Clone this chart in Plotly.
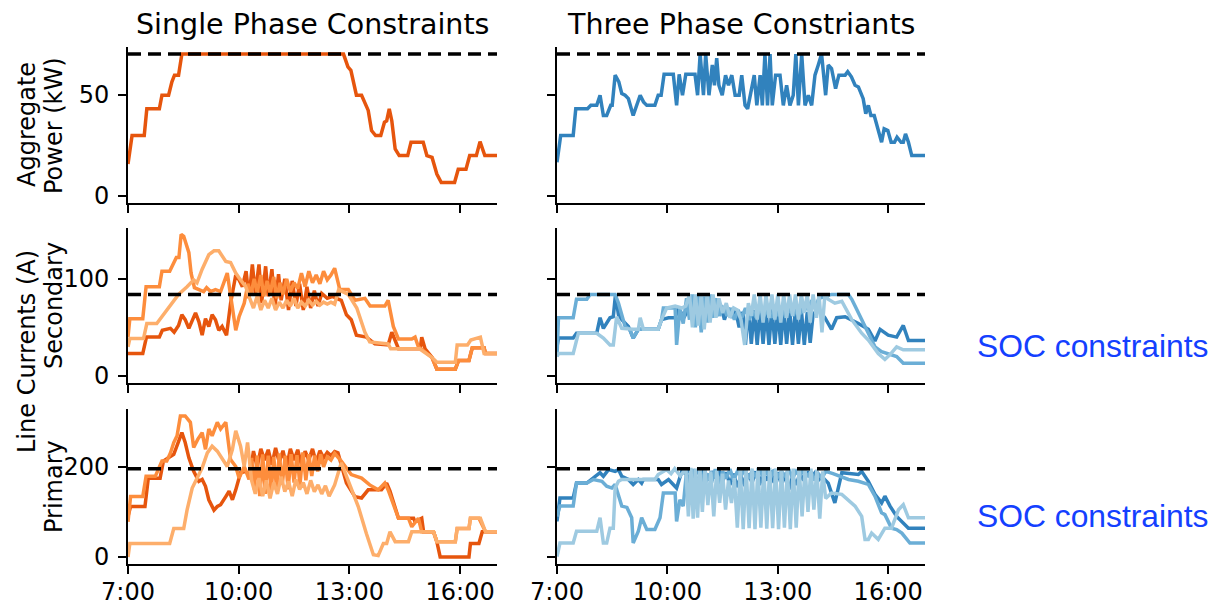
import plotly.graph_objects as go

# The page body has an 8px default margin, so the figure is drawn 8px smaller
# and all page-pixel positions are shifted by that offset.
PAGE_W, PAGE_H = 1218, 605
OFF = 8
W, H = PAGE_W - OFF, PAGE_H - OFF

# ---------------- data (time in decimal hours, value) ----------------
tick_hours = [7, 10, 13, 16]
tick_text = ["7:00", "10:00", "13:00", "16:00"]

col_titles = ["Single Phase Constraints", "Three Phase Constriants"]
limits = [70, 84, 196]          # dashed constraint levels per row

# Row 1: aggregate power (kW)
agg_1ph = [(7.0,15.7),(7.11,29.8),(7.44,29.8),(7.51,43),(7.85,43),(7.92,49.7),(8.1,49.7),(8.19,56.3),
           (8.26,59.6),(8.37,59.6),(8.46,70),(12.84,70),(12.96,63.7),(13.04,62),(13.19,49.7),(13.33,49.7),
           (13.51,42.2),(13.6,32.3),(13.71,29.8),(13.85,29.8),(13.95,36.4),(14.01,37),(14.08,43),(14.15,37),
           (14.24,23.2),(14.35,19.9),(14.58,19.9),(14.67,26.5),(15.0,26.5),(15.1,19.9),(15.24,19),(15.37,10.8),
           (15.49,6.6),(15.85,6.6),(15.95,13.2),(16.16,13.2),(16.26,19.9),(16.44,19.9),(16.54,26.8),(16.67,19.9),
           (17.0,19.9)]
agg_3ph = [(7.0,16.6),(7.1,29.8),(7.44,29.8),(7.51,43),(7.83,43),(7.92,44.7),(8.08,44.7),(8.17,49.7),(8.26,39.7),
           (8.35,39.7),(8.46,44.7),(8.5,44.7),(8.58,59.6),(8.68,56.3),(8.76,50.5),(8.85,49.7),(8.94,48),(9.07,39.7),
           (9.26,49.7),(9.35,46.4),(9.44,44.7),(9.66,44.7),(9.75,49.7),(9.83,49.7),(9.91,60),(10.16,60),(10.25,44.7),
           (10.32,60),(10.41,49.7),(10.5,60),(10.75,60),(10.82,49.7),(10.89,70),(10.98,49.7),(11.04,70),(11.13,49.7),
           (11.22,64.6),(11.28,54.6),(11.34,68),(11.4,54.6),(11.49,49.7),(11.58,59.6),(11.66,54.6),(11.75,59.6),
           (11.84,49.7),(11.95,49.7),(12.02,59.6),(12.11,44.7),(12.18,43),(12.29,54.6),(12.36,59.6),(12.43,44.7),
           (12.52,59.6),(12.58,44.7),(12.65,70),(12.72,44.7),(12.79,70),(12.85,44.7),(12.94,59.6),(13.06,59.6),
           (13.15,44.7),(13.24,54.6),(13.33,44.7),(13.42,49.7),(13.49,70),(13.56,44.7),(13.65,70),(13.74,44.7),
           (13.83,49.7),(13.92,44.7),(14.01,59.6),(14.1,64.6),(14.19,70),(14.3,49.7),(14.37,64.6),(14.46,62.9),
           (14.57,53),(14.66,59.6),(14.83,59.6),(14.9,61.3),(15.0,58.8),(15.1,54.6),(15.19,53.8),(15.32,48),
           (15.39,40.6),(15.46,44.7),(15.53,39.7),(15.62,39.7),(15.73,33.1),(15.82,26.5),(15.89,33.1),(15.99,32.3),
           (16.08,26.5),(16.17,26.5),(16.24,29),(16.35,26.5),(16.41,26.5),(16.47,30.6),(16.55,26.5),(16.64,19.9),
           (17.0,19.9)]

# Row 2: secondary line currents (A), three lines per column
sec_1ph = [
    [(7.0,23),(7.4,23),(7.5,40),(7.85,40),(7.93,47),(8.15,49),(8.25,45),(8.37,52),(8.46,63),(8.55,58),(8.65,49),
     (8.74,56),(8.83,65),(8.92,56),(9.01,42),(9.1,59),(9.19,51),(9.28,63),(9.37,58),(9.46,47),(9.55,51),(9.67,42),
     (9.78,75),(9.92,104),(10.01,99),(10.1,92),(10.2,108),(10.28,80),(10.37,115),(10.45,85),(10.55,115),(10.62,75),
     (10.73,113),(10.8,82),(10.9,110),(10.98,70),(11.08,105),(11.15,78),(11.25,100),(11.35,68),(11.45,98),(11.55,72),
     (11.65,95),(11.75,68),(11.85,92),(11.95,70),(12.05,88),(12.15,72),(12.25,85),(12.4,80),(12.55,82),(12.65,80),
     (12.78,78),(12.92,63),(13.05,58),(13.19,42),(13.46,40),(13.69,33),(14.05,32),(14.15,45),(14.33,28),(14.92,28),
     (14.96,40),(15.05,28),(15.24,19),(15.37,7),(15.87,7),(15.96,16),(16.24,16),(16.33,29),(16.65,29),(16.69,23),
     (17.0,23)],
    [(7.0,40),(7.05,59),(7.4,59),(7.49,92),(7.85,92),(7.92,108),(8.13,108),(8.24,117),(8.31,122),(8.38,122),
     (8.44,146),(8.51,144),(8.65,127),(8.71,106),(8.8,91),(9.05,87),(9.13,91),(9.24,87),(9.37,89),(9.51,87),
     (9.69,106),(9.92,47),(10.01,61),(10.15,75),(10.25,95),(10.33,84),(10.42,100),(10.5,86),(10.6,104),(10.68,82),
     (10.77,98),(10.85,85),(10.95,102),(11.03,80),(11.12,96),(11.2,84),(11.3,100),(11.4,87),(11.5,96),(11.6,90),
     (11.7,106),(11.8,92),(11.9,108),(12.0,96),(12.1,104),(12.2,95),(12.3,108),(12.4,99),(12.5,104),(12.6,111),
     (12.74,89),(12.97,89),(13.15,78),(13.42,80),(13.56,72),(13.96,72),(14.05,78),(14.19,51),(14.33,38),(14.69,38),
     (14.78,40),(14.87,30),(15.05,25),(15.24,19),(15.37,7),(15.87,7),(15.96,16),(16.24,16),(16.33,29),(16.65,29),
     (16.69,23),(17.0,23)],
    [(7.0,30),(7.05,38.5),(7.42,38.5),(7.51,54),(7.78,54),(8.05,68),(8.37,84),(8.6,92),(8.78,99),(8.87,96),
     (9.01,110),(9.19,125),(9.33,129),(9.46,129),(9.55,124),(9.65,118),(9.78,117),(9.92,106),(10.05,99),(10.19,92),
     (10.3,80),(10.4,70),(10.5,82),(10.6,68),(10.7,78),(10.8,70),(10.9,80),(11.0,68),(11.1,76),(11.2,70),(11.3,78),
     (11.4,72),(11.5,80),(11.6,70),(11.7,76),(11.8,72),(11.9,78),(12.0,73),(12.1,77),(12.2,73),(12.3,76),(12.4,74),
     (12.5,76),(12.6,74),(12.71,89),(12.97,84),(13.2,70),(13.42,45),(13.55,35),(14.05,33),(14.12,28),(14.9,28),
     (15.24,19),(15.37,14),(15.87,14),(15.92,32),(16.2,32),(16.29,37),(16.55,40),(16.65,23),(17.0,23)],
]
sec_3ph = [
    [(7.0,30),(7.04,39),(7.44,39),(7.53,44),(8.08,44),(8.17,60),(8.26,49),(8.44,60),(8.53,61),(8.59,84),(8.67,63),
     (8.76,58),(8.94,51),(9.07,39),(9.21,48),(9.75,48),(9.84,58),(10.03,60),(10.21,60),(10.3,70),(10.45,60),(10.6,72),
     (10.75,62),(10.9,73),(11.05,60),(11.2,72),(11.35,62),(11.45,73),(11.55,58),(11.65,70),(11.75,60),(11.85,68),
     (11.95,50),(12.05,66),(12.12,32),(12.2,70),(12.28,33),(12.36,68),(12.44,32),(12.52,70),(12.6,33),(12.68,68),
     (12.76,32),(12.84,70),(12.92,33),(13.0,68),(13.08,32),(13.16,70),(13.24,33),(13.32,68),(13.4,32),(13.48,70),
     (13.56,33),(13.64,68),(13.72,32),(13.8,66),(13.88,34),(13.96,64),(14.1,68),(14.28,60),(14.46,48),(14.6,60),
     (14.83,61),(15.0,58),(15.19,54),(15.46,48),(15.64,36),(15.78,48),(16.0,42),(16.23,40),(16.41,52),(16.55,36.5),
     (17.0,36.5)],
    [(7.0,20),(7.04,60),(7.44,60),(7.53,79),(7.81,79),(7.9,84),(8.58,84),(8.67,75),(8.85,51),(8.98,48),(9.07,39),
     (9.21,48),(9.3,48),(9.75,48),(9.84,58),(9.89,70),(10.21,70),(10.25,32),(10.34,70),(10.43,54),(10.52,80),
     (10.6,58),(10.68,84),(10.76,50),(10.84,84),(10.92,45),(11.0,82),(11.08,55),(11.16,84),(11.24,60),(11.32,80),
     (11.42,62),(11.52,72),(11.62,62),(11.72,70),(11.82,58),(11.92,68),(12.02,60),(12.12,70),(12.22,58),(12.32,66),
     (12.42,60),(12.52,70),(12.62,62),(12.72,68),(12.82,60),(12.92,70),(13.02,62),(13.12,72),(13.22,60),(13.32,70),
     (13.42,62),(13.52,72),(13.62,64),(13.72,75),(13.82,68),(13.92,78),(14.02,72),(14.12,80),(14.28,82),(14.46,84),
     (14.92,84),(15.01,79),(15.1,72),(15.28,58),(15.46,42),(15.64,30),(15.82,25),(16.0,23),(16.23,20),(16.41,13),
     (17.0,13)],
    [(7.0,20),(7.04,23),(7.44,23),(7.58,44),(8.08,44),(8.26,39),(8.44,32),(8.53,32),(8.62,61),(8.76,49),(9.07,48),
     (9.21,48),(9.26,60),(9.35,48),(9.75,48),(9.84,58),(9.98,70),(10.21,72),(10.39,70),(10.5,72),(10.6,84),(10.68,50),
     (10.76,84),(10.84,52),(10.92,84),(11.0,48),(11.08,84),(11.16,55),(11.24,84),(11.32,60),(11.4,80),(11.5,65),
     (11.6,75),(11.7,60),(11.8,70),(11.9,68),(12.0,58),(12.1,32),(12.2,75),(12.28,62),(12.36,84),(12.44,58),
     (12.52,84),(12.6,55),(12.68,84),(12.76,60),(12.84,84),(12.92,58),(13.0,84),(13.08,55),(13.16,84),(13.24,60),
     (13.32,84),(13.4,62),(13.48,84),(13.56,58),(13.64,84),(13.72,65),(13.8,84),(13.88,55),(13.96,84),(14.05,60),
     (14.12,84),(14.2,45),(14.28,84),(14.37,79),(14.55,75),(14.74,77),(15.01,58),(15.28,44),(15.46,37),(15.73,23),
     (15.91,17),(16.05,22),(16.23,30),(16.41,27),(17.0,27)],
]

# Row 3: primary line currents (A)
pri_1ph = [
    [(7.0,90),(7.07,112),(7.46,112),(7.55,175),(7.87,175),(7.96,213),(8.24,228),(8.46,276),(8.55,254),(8.65,220),
     (8.78,190),(8.92,168),(9.01,172),(9.1,157),(9.19,127),(9.33,104),(9.42,112),(9.51,116),(9.65,134),(9.74,146),
     (9.83,127),(9.92,149),(10.05,187),(10.19,190),(10.3,180),(10.4,235),(10.5,200),(10.6,240),(10.7,215),(10.8,238),
     (10.9,205),(11.0,242),(11.1,210),(11.2,236),(11.3,200),(11.4,240),(11.5,215),(11.6,238),(11.7,205),(11.8,235),
     (11.9,215),(12.0,240),(12.1,210),(12.2,236),(12.3,220),(12.4,232),(12.5,225),(12.6,234),(12.69,231),(12.92,164),
     (13.15,134),(13.33,131),(13.51,149),(13.87,149),(14.01,164),(14.1,146),(14.33,86),(14.74,86),(14.78,78),
     (14.96,86),(15.01,56),(15.28,56),(15.37,34),(15.46,0),(16.24,0),(16.28,30),(16.51,30),(16.6,56),(17.0,56)],
    [(7.0,78),(7.07,134),(7.4,134),(7.49,179),(7.74,179),(7.92,213),(8.05,213),(8.15,231),(8.24,254),(8.33,269),
     (8.42,313),(8.55,313),(8.69,299),(8.78,243),(8.89,261),(9.01,276),(9.1,239),(9.19,284),(9.28,269),(9.42,299),
     (9.51,284),(9.65,299),(9.78,216),(9.92,201),(10.01,175),(10.15,201),(10.28,172),(10.35,220),(10.42,150),
     (10.5,225),(10.57,135),(10.65,228),(10.72,140),(10.8,225),(10.88,145),(10.95,222),(11.03,150),(11.1,230),
     (11.18,160),(11.26,225),(11.34,150),(11.42,228),(11.5,165),(11.58,226),(11.66,160),(11.74,232),(11.82,170),
     (11.9,228),(11.98,180),(12.06,225),(12.14,190),(12.22,228),(12.3,200),(12.4,222),(12.5,215),(12.6,230),
     (12.78,213),(13.05,183),(13.33,175),(13.55,160),(13.78,149),(13.96,164),(14.05,149),(14.33,86),(14.6,86),
     (14.69,67),(14.87,86),(14.96,56),(15.28,56),(15.37,34),(15.87,34),(15.92,63),(16.24,63),(16.28,86),(16.51,86),
     (16.69,56),(17.0,56)],
    [(7.0,0),(7.05,30),(8.13,30),(8.24,63),(8.51,63),(8.6,104),(8.74,153),(8.87,175),(9.01,198),(9.15,231),
     (9.28,246),(9.42,235),(9.55,220),(9.69,201),(9.83,239),(9.92,280),(10.05,246),(10.15,201),(10.24,254),
     (10.35,170),(10.45,140),(10.55,175),(10.65,135),(10.75,170),(10.85,130),(10.95,165),(11.05,140),(11.15,178),
     (11.25,145),(11.35,168),(11.45,135),(11.55,172),(11.65,150),(11.75,165),(11.85,140),(11.95,170),(12.05,145),
     (12.15,160),(12.25,140),(12.35,158),(12.45,135),(12.55,150),(12.6,160),(12.78,209),(12.96,172),(13.24,112),
     (13.46,52),(13.65,5),(13.78,3),(13.92,30),(14.01,30),(14.1,56),(14.24,34),(14.6,34),(14.69,56),(15.28,56),
     (15.37,34),(15.87,34),(15.92,63),(16.24,63),(16.28,86),(16.55,86),(16.69,56),(17.0,56)],
]
pri_3ph = [
    [(7.0,79),(7.08,131),(7.44,131),(7.53,164),(7.81,164),(7.94,172),(8.17,187),(8.26,179),(8.4,194),(8.58,190),
     (8.67,194),(8.76,179),(8.94,172),(9.07,161),(9.21,172),(9.3,164),(9.35,172),(9.75,172),(9.84,161),(10.03,172),
     (10.25,153),(10.39,190),(10.5,185),(10.6,196),(10.7,175),(10.8,192),(10.9,180),(11.0,195),(11.1,170),(11.2,190),
     (11.3,175),(11.4,193),(11.5,168),(11.6,188),(11.7,160),(11.8,185),(11.9,155),(12.0,180),(12.1,158),(12.2,185),
     (12.3,165),(12.4,190),(12.5,160),(12.6,185),(12.7,170),(12.8,192),(12.9,165),(13.0,188),(13.1,160),(13.2,182),
     (13.3,150),(13.4,178),(13.5,160),(13.6,185),(13.7,170),(13.8,190),(13.9,175),(14.0,186),(14.1,170),(14.2,178),
     (14.37,164),(14.55,120),(14.74,187),(15.19,183),(15.28,190),(15.46,168),(15.64,139),(15.82,120),(15.91,135),
     (16.05,113),(16.23,90),(16.55,64),(17.0,64)],
    [(7.0,90),(7.08,113),(7.44,113),(7.53,164),(7.81,164),(7.99,172),(8.22,168),(8.35,157),(8.49,153),(8.58,161),
     (8.76,113),(8.9,110),(9.03,87),(9.07,31),(9.21,57),(9.3,87),(9.44,61),(9.66,61),(9.8,87),(9.89,142),(10.21,142),
     (10.25,79),(10.34,127),(10.43,113),(10.52,190),(10.6,150),(10.7,195),(10.8,160),(10.9,190),(11.0,150),
     (11.1,185),(11.2,165),(11.3,195),(11.4,160),(11.5,190),(11.6,175),(11.7,195),(11.8,170),(11.9,190),(12.0,180),
     (12.1,194),(12.2,175),(12.3,190),(12.4,180),(12.5,195),(12.6,178),(12.7,190),(12.8,175),(12.9,194),(13.0,178),
     (13.1,190),(13.2,180),(13.3,195),(13.4,175),(13.5,190),(13.6,180),(13.7,195),(13.8,178),(13.9,190),(14.0,170),
     (14.1,185),(14.2,175),(14.3,190),(14.5,185),(14.92,172),(15.19,168),(15.46,161),(15.64,135),(15.82,98),
     (15.91,94),(16.09,64),(16.23,61),(16.37,53),(16.59,31),(17.0,31)],
    [(7.0,1),(7.08,31),(7.44,31),(7.53,57),(8.08,57),(8.17,87),(8.26,31),(8.35,31),(8.44,64),(8.53,64),(8.58,153),
     (8.67,168),(8.76,172),(9.66,172),(9.75,183),(9.98,194),(10.1,185),(10.2,196),(10.35,180),(10.5,196),(10.57,90),
     (10.64,198),(10.7,85),(10.76,196),(10.82,87),(10.88,198),(10.95,100),(11.02,196),(11.1,115),(11.18,190),
     (11.26,90),(11.34,192),(11.42,120),(11.5,185),(11.58,105),(11.66,170),(11.74,120),(11.82,175),(11.9,65),
     (11.98,196),(12.06,62),(12.14,198),(12.22,64),(12.3,196),(12.38,62),(12.46,198),(12.54,65),(12.62,196),
     (12.7,63),(12.78,198),(12.86,64),(12.94,196),(13.02,62),(13.1,198),(13.18,65),(13.26,194),(13.34,62),
     (13.42,196),(13.5,65),(13.58,198),(13.66,90),(13.74,196),(13.82,100),(13.9,196),(13.98,105),(14.06,194),
     (14.14,85),(14.22,190),(14.3,130),(14.46,142),(14.74,139),(14.92,127),(15.1,113),(15.28,90),(15.37,39),
     (15.46,39),(15.55,53),(15.73,39),(15.91,64),(16.09,64),(16.28,105),(16.41,116),(16.55,87),(17.0,87)],
]

# ---------------- styling / layout ----------------
ORANGES = ["#e6550d", "#fd8d3c", "#fdae6b"]
BLUES = ["#3182bd", "#6baed6", "#9ecae1"]

# panel boxes in page pixels
row_px = [(47, 203), (228, 383), (409, 564)]
col_px = [(128, 497), (557, 925)]
y_ranges = [[-3.5, 73.5], [-7.3, 152.5], [-15.6, 328.5]]
y_ticks = [[0, 50], [0, 100], [0, 200]]

FONT = "DejaVu Sans"
TICK_SIZE = 24
TITLE_SIZE = 28.5


def px_x(p):
    return (p - OFF) / W


def px_y(p):
    return 1 - (p - OFF) / H


fig = go.Figure()

panels = [
    [[agg_1ph], [agg_3ph]],
    [sec_1ph, sec_3ph],
    [pri_1ph, pri_3ph],
]


def ax_name(kind, i):
    return kind if i == 1 else f"{kind}{i}"


for r in range(3):
    for c in range(2):
        i = r * 2 + c + 1
        series_list = panels[r][c]
        colors = ORANGES if c == 0 else BLUES
        for k, s in enumerate(series_list):
            xs = [p[0] for p in s]
            ys = [p[1] for p in s]
            fig.add_trace(go.Scatter(
                x=xs, y=ys, mode="lines",
                line=dict(color=colors[k], width=3.5),
                xaxis=ax_name("x", i), yaxis=ax_name("y", i),
                showlegend=False, hoverinfo="skip"))
        fig.add_trace(go.Scatter(
            x=[7, 17], y=[limits[r], limits[r]], mode="lines",
            line=dict(color="black", width=3.5, dash="13px,7px"),
            xaxis=ax_name("x", i), yaxis=ax_name("y", i),
            showlegend=False, hoverinfo="skip"))

        x0, x1 = col_px[c]
        y0, y1 = row_px[r]
        fig.layout[ax_name("xaxis", i)] = dict(
            domain=[px_x(x0), px_x(x1)], anchor=ax_name("y", i), automargin=False,
            range=[7, 17], tickvals=tick_hours, ticktext=tick_text,
            showticklabels=(r == 2), ticks="outside", ticklen=8, tickwidth=2,
            tickcolor="black", showline=True, linecolor="black", linewidth=2,
            showgrid=False, zeroline=False, ticklabelstandoff=-3,
            tickfont=dict(family=FONT, size=TICK_SIZE, color="black"))
        fig.layout[ax_name("yaxis", i)] = dict(
            domain=[px_y(y1), px_y(y0)], anchor=ax_name("x", i), automargin=False,
            range=y_ranges[r], tickvals=y_ticks[r],
            showticklabels=(c == 0), ticks="outside", ticklen=8, tickwidth=2,
            tickcolor="black", showline=True, linecolor="black", linewidth=2,
            showgrid=False, zeroline=False, ticklabelstandoff=4,
            tickfont=dict(family=FONT, size=TICK_SIZE, color="black"))

annotations = []


def px_ann(text, x, y, size, angle=0, color="black", family=FONT, xanchor="center"):
    annotations.append(dict(
        text=text, x=px_x(x), y=px_y(y), xref="paper", yref="paper",
        showarrow=False, textangle=angle, xanchor=xanchor, yanchor="middle",
        font=dict(family=family, size=size, color=color)))


# column titles
px_ann(col_titles[0], (col_px[0][0] + col_px[0][1]) / 2, 24, TITLE_SIZE)
px_ann(col_titles[1], (col_px[1][0] + col_px[1][1]) / 2, 24, TITLE_SIZE)

# y-axis labels
px_ann("Aggregate", 27, 125, TICK_SIZE, angle=-90)
px_ann("Power (kW)", 54, 125, TICK_SIZE, angle=-90)
px_ann("Secondary", 54, 305, TICK_SIZE, angle=-90)
px_ann("Primary", 54, 486, TICK_SIZE, angle=-90)
px_ann("Line Currents (A)", 27, 352, TICK_SIZE, angle=-90)

# side notes
px_ann("SOC constraints", 975, 346, 31.8, color="#1440ff", family="Liberation Sans", xanchor="left")
px_ann("SOC constraints", 975, 516, 31.8, color="#1440ff", family="Liberation Sans", xanchor="left")

fig.update_layout(
    width=W, height=H,
    margin=dict(l=0, r=0, t=0, b=0, autoexpand=False),
    paper_bgcolor="white", plot_bgcolor="white",
    showlegend=False,
    annotations=annotations,
)

fig.write_html("out.html")
